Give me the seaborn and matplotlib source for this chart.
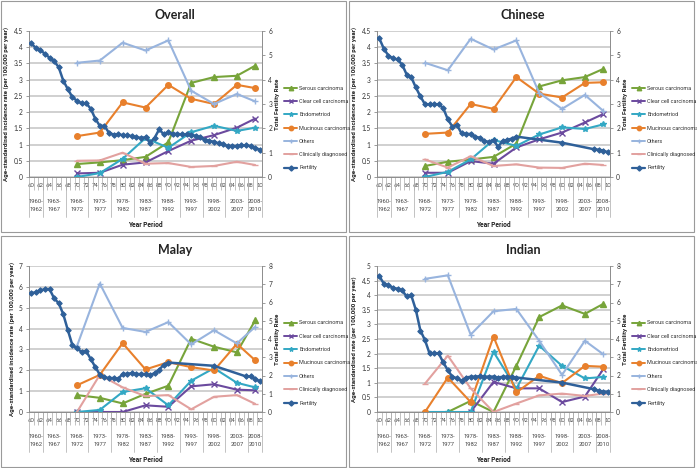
import matplotlib
matplotlib.use("Agg")
import matplotlib.pyplot as plt
import matplotlib.transforms as mtransforms
from matplotlib.lines import Line2D
from matplotlib.patches import Rectangle
import numpy as np
import pandas as pd
import seaborn as sns

sns.set_theme(style="white")
plt.rcParams['font.family'] = ['Lato', 'DejaVu Sans']
NARROW = ['Liberation Sans Narrow', 'Roboto', 'DejaVu Sans']

W, H = 697, 468

# x positions (year of period mid-point) for incidence rates
PERIOD_MID = [1970, 1975, 1980, 1985, 1990, 1995, 2000, 2005, 2009]
PERIODS = [(1960, 1962), (1963, 1967), (1968, 1972), (1973, 1977),
           (1978, 1982), (1983, 1987), (1988, 1992), (1993, 1997),
           (1998, 2002), (2003, 2007), (2008, 2010)]
YEARS = list(range(1960, 2011))

SERIES = ["Serous carcinoma", "Clear cell carcinoma", "Endometriod",
          "Mucinous carcinoma", "Others", "Clinically diagnosed"]
COLORS = ["#77A43A", "#6B4A9E", "#33A8C4", "#E8802C", "#98B4DE", "#E2A19F"]
MARKERS = ["^", "x", "*", "o", "+", "_"]
FERT_COLOR = "#2F6099"

# ---- Overall ----
overall_serous = [0.40, 0.45, 0.52, 0.62, 1.07, 2.90, 3.08, 3.12, 3.43]
overall_clear = [0.11, 0.13, 0.38, 0.45, 0.80, 1.12, 1.29, 1.52, 1.80]
overall_endo = [0.00, 0.12, 0.56, 1.20, 0.90, 1.38, 1.58, 1.42, 1.52]
overall_muc = [1.26, 1.37, 2.30, 2.14, 2.84, 2.41, 2.25, 2.84, 2.74]
overall_others = [3.52, 3.59, 4.14, 3.90, 4.21, 2.66, 2.25, 2.56, 2.33]
overall_clin = [0.50, 0.51, 0.75, 0.41, 0.43, 0.31, 0.34, 0.47, 0.37]
overall_fert = [5.49, 5.30, 5.21, 5.06, 4.90, 4.76, 4.51, 3.96, 3.61, 3.28,
                3.13, 3.03, 3.03, 2.81, 2.40, 2.10, 2.10, 1.82, 1.74, 1.75,
                1.72, 1.71, 1.68, 1.63, 1.61, 1.63, 1.41, 1.61, 1.96, 1.75,
                1.83, 1.77, 1.77, 1.75, 1.75, 1.72, 1.70, 1.63, 1.52, 1.48,
                1.45, 1.38, 1.34, 1.27, 1.28, 1.27, 1.30, 1.30, 1.27, 1.19, 1.13]

# ---- Chinese ----
chinese_serous = [0.34, 0.47, 0.54, 0.62, 1.03, 2.79, 2.98, 3.08, 3.33]
chinese_clear = [0.13, 0.13, 0.49, 0.41, 0.91, 1.16, 1.37, 1.68, 1.94]
chinese_endo = [0.00, 0.16, 0.54, 1.14, 0.96, 1.31, 1.53, 1.48, 1.62]
chinese_muc = [1.33, 1.37, 2.25, 2.10, 3.08, 2.57, 2.45, 2.90, 2.92]
chinese_others = [3.52, 3.29, 4.26, 3.93, 4.21, 2.59, 2.10, 2.53, 2.04]
chinese_clin = [0.54, 0.29, 0.64, 0.34, 0.39, 0.29, 0.28, 0.41, 0.37]
chinese_fert = [5.70, 5.27, 4.99, 4.87, 4.83, 4.62, 4.21, 4.10, 3.68, 3.31,
                2.99, 2.99, 2.99, 2.99, 2.83, 2.37, 2.07, 2.14, 1.79, 1.77,
                1.77, 1.66, 1.61, 1.47, 1.45, 1.52, 1.24, 1.48, 1.52, 1.58,
                1.66, None, None, None, None, None, None, None, None, None,
                1.41, None, None, None, None, None, None, 1.14, 1.12, 1.08, 1.02]

# ---- Malay ----
malay_serous = [0.81, 0.68, 0.41, 0.87, 1.26, 3.51, 3.13, 2.86, 4.39]
malay_clear = [0.00, 0.00, 0.00, 0.32, 0.25, 1.23, 1.33, 1.07, 1.04]
malay_endo = [0.00, 0.10, 0.96, 1.14, 0.32, 1.50, 2.10, 1.40, 1.18]
malay_muc = [1.28, 1.78, 3.30, 2.04, 2.39, 2.15, 1.99, 3.27, 2.48]
malay_others = [3.16, 6.16, 4.03, 3.84, 4.31, 3.24, 3.92, 3.29, 4.08]
malay_clin = [0.00, 1.78, 1.18, 0.76, 0.81, 0.13, 0.73, 0.81, 0.39]
malay_fert = [6.52, 6.55, 6.66, 6.73, 6.73, 6.23, 5.96, 5.36, 4.49, 3.66,
              3.48, 3.30, 3.34, 2.91, 2.47, 2.05, 1.90, 1.86, 1.86, 1.82,
              2.08, 2.09, 2.13, 2.08, 2.08, 2.08, 2.02, 2.13, 2.31, 2.60,
              2.71, None, None, None, None, None, None, None, None, None,
              2.53, None, None, None, None, None, None, 1.95, 1.95, 1.82, 1.68]

# ---- Indian ----
indian_serous = [None, 0.00, 0.38, 0.00, 1.58, 3.25, 3.65, 3.36, 3.70]
indian_clear = [None, None, 0.00, 1.03, 0.81, 0.81, 0.34, 0.53, 1.46]
indian_endo = [0.00, 0.00, 0.00, 2.06, 0.80, 2.27, 1.58, 1.15, 1.20]
indian_muc = [0.00, 1.18, 0.34, 2.58, 0.67, 1.24, 0.99, 1.58, 1.55]
indian_others = [4.56, 4.68, 2.65, 3.45, 3.53, 2.44, 1.27, 2.44, 1.98]
indian_clin = [0.97, 1.93, 0.81, 0.00, 0.29, 0.57, 0.63, 0.55, 0.63]
indian_fert = [7.45, 7.03, 6.94, 6.81, 6.75, 6.66, 6.33, 6.39, 5.60, 4.46,
               3.94, 3.21, 3.21, 3.21, 2.72, 2.29, 1.93, 1.85, 1.71, 1.89,
               1.93, 1.94, 1.96, 1.94, 1.94, 1.94, 1.89, 1.93, 1.94, 1.93,
               1.89, None, None, None, None, None, None, None, None, None,
               1.61, None, None, None, None, None, None, 1.25, 1.16, 1.12, 1.12]

GREY = "#8C8C8C"


def draw_panel(fig, ox, oy, title, rates, fert, ymax, ystep, fmax, ylabel):
    ax = fig.add_axes([(ox + 29) / W, 1 - (oy + 177) / H, 233 / W, 146 / H])
    ax2 = ax.twinx()

    for name, vals, col, mk in zip(SERIES, rates, COLORS, MARKERS):
        df = pd.DataFrame({"year": PERIOD_MID, "rate": vals}).dropna()
        sns.lineplot(data=df, x="year", y="rate", ax=ax, color=col,
                     marker=mk, markersize=4, markeredgewidth=1.0,
                     markeredgecolor=col, lw=1.5, estimator=None)

    fdf = pd.DataFrame({"year": YEARS, "tfr": fert}).dropna()
    sns.lineplot(data=fdf, x="year", y="tfr", ax=ax2, color=FERT_COLOR,
                 marker="D", markersize=2.8, markeredgecolor=FERT_COLOR,
                 lw=1.8, estimator=None)

    ax.set_xlim(1959.5, 2010.5)
    ax.set_ylim(0, ymax)
    ax2.set_ylim(0, fmax)

    yt = np.arange(0, ymax + ystep / 2, ystep)
    ax.set_yticks(yt)
    ax.set_yticklabels([f"{v:g}" for v in yt], fontsize=4.8, color="#333333")
    ax.yaxis.grid(True, color="#C4C4C4", lw=1.1)
    ax.set_axisbelow(True)
    ax2.set_yticks(range(0, fmax + 1))
    ax2.set_yticklabels([str(v) for v in range(0, fmax + 1)], fontsize=4.8,
                        color="#333333")
    ax2.grid(False)
    ax.tick_params(axis="y", left=True, length=2.5, width=0.6, color=GREY, pad=2)
    ax2.tick_params(axis="y", right=True, length=2.5, width=0.6, color=GREY, pad=2)

    ax.set_xticks(YEARS[::2])
    ax.set_xticklabels([f"{y % 100:02d}" for y in YEARS[::2]], fontsize=4.2,
                       color="#444444")
    ax.set_xticks([y + 0.5 for y in YEARS[:-1]], minor=True)
    ax.tick_params(axis="x", which="major", length=0, pad=4)
    ax.tick_params(axis="x", which="minor", bottom=True, length=9, width=0.5,
                   color="#AAAAAA")

    for sp in ["top", "right"]:
        ax.spines[sp].set_visible(False)
    for sp in ["top", "left", "bottom"]:
        ax2.spines[sp].set_visible(False)
    ax.spines["left"].set_color(GREY)
    ax.spines["bottom"].set_color(GREY)
    ax2.spines["right"].set_color(GREY)
    for sp in [ax.spines["left"], ax.spines["bottom"], ax2.spines["right"]]:
        sp.set_linewidth(0.7)

    ax.set_xlabel("")
    ax2.set_xlabel("")
    ax.set_ylabel(ylabel, fontsize=4.4, fontweight="bold", labelpad=3,
                  family=NARROW)
    ax2.set_ylabel("Total Fertility Rate", fontsize=4.4, fontweight="bold",
                   labelpad=2, family=NARROW)

    trans = mtransforms.blended_transform_factory(ax.transData, ax.transAxes)
    bounds = [PERIODS[0][0] - 0.5] + [p[1] + 0.5 for p in PERIODS]
    for b in bounds:
        ax.plot([b, b], [0, -0.275], transform=trans, color="#AAAAAA",
                lw=0.5, clip_on=False)
    for a, b in PERIODS:
        ax.text((a + b) / 2, -0.195, f"{a}-\n{b}", transform=trans,
                ha="center", va="center", fontsize=4.2, linespacing=1.9,
                color="#444444", family=NARROW)
    ax.text(0.5, -0.30, "Year Period", transform=ax.transAxes, ha="center",
            va="top", fontsize=4.8, fontweight="bold", color="#222222",
            family=NARROW)

    fig.text((ox + 175) / W, 1 - (oy + 15) / H, title, ha="center",
             va="center", fontsize=9, fontweight="bold", color="#222222")

    handles = [Line2D([], [], color=c, marker=m, markersize=3.2, lw=1.4,
                      markeredgecolor=c) for c, m in zip(COLORS, MARKERS)]
    handles.append(Line2D([], [], color=FERT_COLOR, marker="D", markersize=2.6,
                          lw=1.6))
    fig.legend(handles, SERIES + ["Fertility"], loc="center left",
               bbox_to_anchor=((ox + 284) / W, 1 - (oy + 128) / H),
               frameon=False, prop={"family": NARROW, "size": 4.0},
               handlelength=2.4, handletextpad=0.3, labelspacing=1.5,
               borderpad=0, borderaxespad=0, labelcolor="#333333")

    fig.add_artist(Rectangle(((ox + 0.5) / W, 1 - (oy + 232) / H), 345 / W,
                             231 / H, transform=fig.transFigure, fill=False,
                             edgecolor="#9A9A9A", lw=0.8))


fig = plt.figure(figsize=(W / 100, H / 100), dpi=100)
fig.patch.set_facecolor("white")

draw_panel(fig, 0, 0, "Overall",
           [overall_serous, overall_clear, overall_endo, overall_muc,
            overall_others, overall_clin], overall_fert, 4.5, 0.5, 6,
           "Age-standardised incidence rate (per 100,000 per year)")
draw_panel(fig, 348, 0, "Chinese",
           [chinese_serous, chinese_clear, chinese_endo, chinese_muc,
            chinese_others, chinese_clin], chinese_fert, 4.5, 0.5, 6,
           "Age-standardised incidence rate (per 100,000 per year)")
draw_panel(fig, 0, 235, "Malay",
           [malay_serous, malay_clear, malay_endo, malay_muc,
            malay_others, malay_clin], malay_fert, 7, 1, 8,
           "Age-standardised incidence rate (per 100,000 per year)")
draw_panel(fig, 348, 235, "Indian",
           [indian_serous, indian_clear, indian_endo, indian_muc,
            indian_others, indian_clin], indian_fert, 5, 0.5, 8,
           "Age-standardised rate (per 100,000 per year)")

fig.savefig("out.png", dpi=100)
